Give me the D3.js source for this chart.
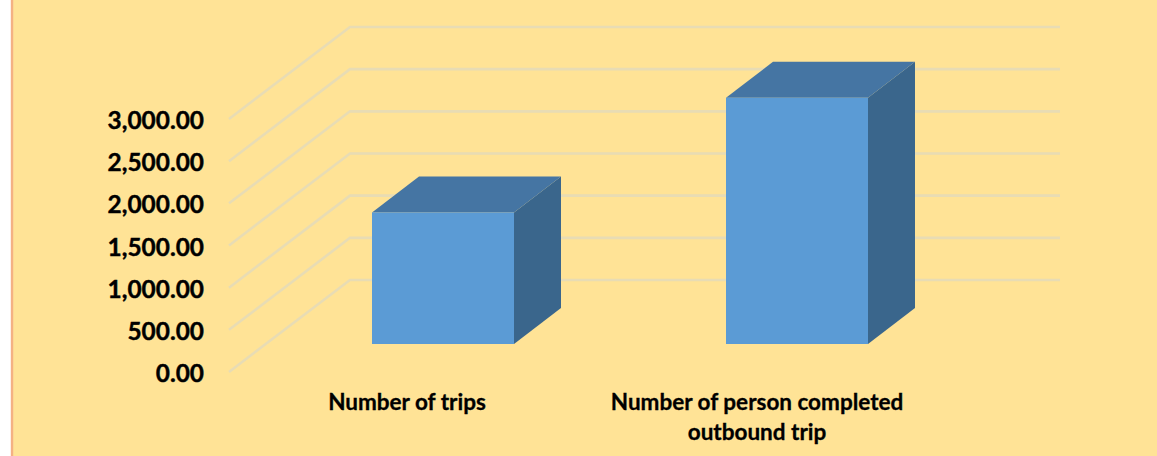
<!DOCTYPE html>
<html><head><meta charset="utf-8">
<script src="https://cdn.jsdelivr.net/npm/d3@7/dist/d3.min.js"></script>
<style>html,body{margin:0;padding:0;background:#fff;overflow:hidden}svg{display:block}</style>
</head><body><svg id="c" width="1157" height="456"></svg>
<script>
const categories = ["Number of trips", "Number of person completed outbound trip"];
const values = [1560, 2920];
const tickValues = [0, 500, 1000, 1500, 2000, 2500, 3000];
const labelLines = [["Number of trips"], ["Number of person completed", "outbound trip"]];

const svg = d3.select("#c");
svg.append("rect").attr("x",12).attr("y",-4).attr("width",1160).attr("height",470)
  .attr("fill","#FFE396").attr("stroke","#F4B183").attr("stroke-width",2.4);

const y = d3.scaleLinear().domain([0,3000]).range([372,119]);
const backDx = 121, backDy = -92, backEnd = 1060;
const gridG = svg.append("g").attr("fill","none").attr("stroke","#E8DCB4").attr("stroke-width",2.6);
gridG.selectAll("path").data(tickValues).join("path")
  .attr("d", v => {
    const p = d3.path();
    p.moveTo(229, y(v));
    p.lineTo(229 + backDx, y(v) + backDy);
    p.lineTo(backEnd, y(v) + backDy);
    return p.toString();
  });

const axis = d3.axisLeft(y).tickValues(tickValues).tickSize(0).tickPadding(0).tickFormat(d3.format(",.2f"));
const ax = svg.append("g").attr("transform","translate(204,1)").call(axis);
ax.select(".domain").remove();
ax.selectAll("text").attr("fill","#000").attr("font-family","Lato, Carlito, sans-serif")
  .attr("font-weight",700).attr("font-size",24.4).attr("dy","0.35em")
  .attr("stroke","#000").attr("stroke-width",0.4);

const xBar = d3.scaleBand().domain(categories).range([266,974]);
const xLabel = d3.scaleBand().domain(categories).range([232,932]);
const barW = 142, dx = 47, dy = -36, base = 344;
const scaleH = v => y(0) - y(v);
const bars = svg.selectAll("g.bar").data(categories.map((c,i)=>({c,v:values[i]}))).join("g").attr("class","bar");
const poly = pts => "M" + pts.map(p=>p.join(",")).join("L") + "Z";
const xL = d => xBar(d.c) + xBar.bandwidth()/2 - barW/2;
const xR = d => xL(d) + barW;
const yT = d => base - scaleH(d.v);
bars.append("path").attr("fill","#3A668C").attr("d", d => poly([[xR(d),yT(d)],[xR(d)+dx,yT(d)+dy],[xR(d)+dx,base+dy],[xR(d),base]]));
bars.append("path").attr("fill","#4575A3").attr("d", d => poly([[xL(d),yT(d)],[xL(d)+dx,yT(d)+dy],[xR(d)+dx,yT(d)+dy],[xR(d),yT(d)]]));
bars.append("rect").attr("fill","#5B9BD5").attr("x",xL).attr("y",yT).attr("width",barW).attr("height",d=>base-yT(d));

const labels = svg.append("g").attr("font-family","Lato, Carlito, sans-serif").attr("font-weight",700).attr("font-size",22.5).attr("fill","#000").attr("text-anchor","middle")
  .attr("stroke","#000").attr("stroke-width",0.3);
categories.forEach((c,k) => {
  const cx = xLabel(c) + xLabel.bandwidth()/2;
  const t = labels.append("text").attr("x", cx).attr("y", 410);
  labelLines[k].forEach((s,i)=> t.append("tspan").attr("x", cx).attr("dy", i? 30:0).text(s));
});
</script></body></html>
